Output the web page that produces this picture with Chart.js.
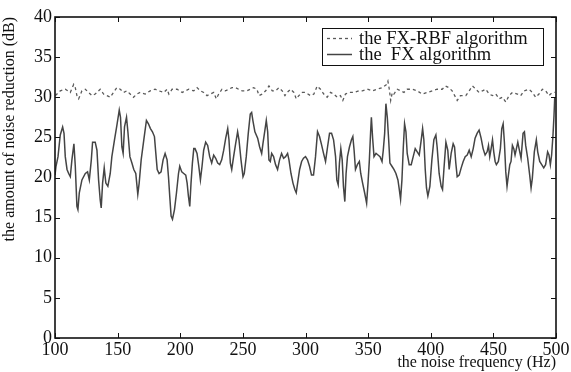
<!DOCTYPE html>
<html>
<head>
<meta charset="utf-8">
<script src="https://cdn.jsdelivr.net/npm/chart.js@4.4.1/dist/chart.umd.min.js"></script>
<style>
  html, body { margin: 0; padding: 0; background: #fff; }
  #wrap { width: 571px; height: 372px; }
</style>
</head>
<body>
<div id="wrap"><canvas id="chart" width="571" height="372"></canvas></div>
<script>
// x ticks / y ticks
const xTicks = [100, 150, 200, 250, 300, 350, 400, 450, 500];
const yTicks = [0, 5, 10, 15, 20, 25, 30, 35, 40];

const seriesNames = ['the FX-RBF algorithm', 'the  FX algorithm'];

// the FX-RBF algorithm (dashed)
const freqRBF = [100.3, 104.2, 108.2, 112.2, 114.9, 116.2, 117.5, 118.9, 121.5, 124.2, 126.8, 129.5, 132.1, 136.1, 138.8, 141.4, 144.1, 146.7, 149.4, 152.1,
  154.7, 157.4, 160, 162.7, 165.3, 168, 172, 176, 179.9, 182.9, 186.9, 189.5, 190.9, 193.5, 197.5, 201.5, 204.1, 206.8, 210.8, 213.4,
  216.1, 218.7, 221.4, 224.1, 226.7, 228.8, 230.7, 233.3, 236, 238.7, 241.3, 244, 246.6, 249.3, 253.3, 255.9, 258.6, 261.2, 262.9, 265.5,
  268.2, 270.8, 273.5, 276.1, 278.8, 281.4, 283.6, 285.4, 288.1, 290.7, 292.6, 294.7, 297.4, 300, 304, 306.7, 309.3, 312, 314.6, 317.3,
  320, 322.6, 325.3, 327.9, 329.8, 331.9, 334.6, 338.6, 342.5, 345.4, 349.4, 353.4, 357.3, 361.3, 364.8, 365.8, 366.9, 368, 369.3, 370.6,
  373.3, 375.9, 378.6, 381.2, 385.2, 389.2, 393.2, 397.2, 401.2, 405.1, 409.1, 411.8, 414.4, 417.1, 419.8, 421.1, 423.7, 428, 430.7, 433.3,
  436, 438.6, 441.3, 443.9, 446.6, 449.3, 451.9, 454.6, 457.2, 459.9, 462.5, 465.2, 469.2, 471.8, 474.5, 478.5, 481.1, 483.8, 486.4, 489.1,
  491.8, 494.4, 497.1, 499];
const valRBF = [30.2, 30.8, 31, 30.6, 31.6, 31.2, 30.2, 29.8, 30.8, 31, 30.6, 30.2, 30.4, 31, 30.4, 30.2, 30, 30.6, 31.2, 31,
  30.6, 30.8, 30.4, 30, 30.4, 30.6, 30.4, 30.8, 31, 30.8, 30.6, 31, 30.4, 31, 31, 30.6, 30.8, 31, 30.8, 31.2,
  30.8, 30.6, 30.2, 30.4, 30.6, 29.8, 30.4, 31, 30.8, 31, 31.2, 31.2, 31, 30.8, 30.8, 31, 31.2, 31, 30.2, 30.4,
  30.8, 31.4, 30.8, 30.8, 31.2, 30.8, 30.2, 30.6, 31, 30.6, 29.8, 30.2, 30.6, 30.6, 30.2, 30.4, 31.4, 31, 30.4, 30,
  30.6, 30.4, 30, 30.2, 29.6, 30.4, 30.6, 30.6, 30.8, 30.8, 31, 30.8, 31, 31.2, 31.6, 32, 31, 29.6, 30.6, 30.4,
  31, 30.8, 30.6, 31, 31, 30.8, 30.4, 30.6, 30.8, 31, 31, 31.4, 31.2, 30.8, 30, 29.6, 30.2, 30.2, 30.8, 31.4,
  31, 30.6, 30.8, 31, 30.4, 30.2, 30.4, 29.8, 30, 29.4, 30.2, 30.6, 30.4, 30.2, 30.8, 31, 30.6, 30, 30.4, 31,
  30.8, 30.2, 30.6, 30.6];

// the FX algorithm (solid)
const freqFX = [100, 100.8, 102.4, 104.2, 106.1, 107.2, 108.2, 109.6, 110.9, 112.2, 113.5, 115.1, 116.2, 117.5, 118.3, 119.4, 121.5, 124.2, 126, 127.4,
  129, 130, 132.1, 133.5, 134.8, 136.1, 136.9, 138, 139.3, 140.6, 142.2, 144.1, 145.4, 147.5, 149.4, 151.3, 152.3, 153.4, 154.4, 155.5,
  157.1, 158.2, 159.8, 161.4, 162.9, 164.5, 166.1, 167.2, 168.8, 170.9, 173, 174.6, 176.2, 177.8, 179.4, 180.5, 181.6, 183.1, 184.7, 186.3,
  187.9, 189.5, 190.6, 191.6, 192.7, 193.8, 195.4, 197, 198.6, 199.6, 201.2, 202.8, 204.4, 205.5, 206.5, 207.6, 208.6, 209.7, 210.8, 211.8,
  213.4, 214.8, 216.1, 217.4, 218.7, 220.3, 221.9, 223.5, 225.1, 226.7, 228.3, 229.9, 231.5, 233.1, 234.7, 236.3, 237.9, 238.9, 240, 241.1,
  242.6, 244.2, 245.8, 246.9, 248.5, 250.1, 251.1, 252.7, 254.3, 255.9, 257, 258, 259.6, 261.8, 263.4, 265, 266, 267.6, 268.7, 269.8,
  270.8, 271.9, 273, 274.5, 276.1, 277.7, 279.3, 280.9, 282.5, 284.1, 285.7, 286.8, 288.4, 290, 291.5, 292.6, 293.7, 295.3, 296.9, 298.4,
  300, 301.6, 303.2, 304.8, 306.4, 308, 309.6, 311.2, 312.8, 314.4, 316, 317.6, 319.2, 320.8, 322.4, 324, 325, 326.1, 327.1, 328.2,
  329.3, 330.3, 331.4, 332.4, 333.5, 335.1, 336.7, 337.8, 338.8, 339.9, 341.4, 343, 344.1, 345.6, 347.2, 348.8, 349.9, 351, 352, 352.6,
  353.6, 354.7, 356.3, 357.9, 359.5, 361.1, 362.1, 363.2, 364.2, 365.3, 366.4, 367.4, 369, 370.6, 372.2, 373.8, 374.9, 375.9, 377, 378.1,
  379.1, 380.2, 381.2, 382.8, 384.4, 386, 387.6, 389.2, 390.8, 392.4, 393.5, 394.5, 395.6, 396.6, 397.7, 399.3, 400.9, 402.5, 404.1, 405.1,
  406.7, 408.3, 409.4, 410.5, 412.1, 413.6, 414.7, 416.3, 417.9, 419, 420, 421.1, 422.7, 424.3, 425.9, 427.5, 429.1, 430.7, 432.3, 433.9,
  435.4, 437, 438.6, 440.2, 441.8, 443.4, 445, 446.1, 447.1, 448.2, 449.3, 450.3, 451.4, 452.4, 454, 455.6, 456.7, 457.8, 458.8, 459.9,
  460.9, 462, 463.1, 464.1, 465.2, 466.3, 467.3, 468.4, 469.5, 470.5, 472.1, 473.7, 474.8, 475.8, 477.4, 479, 480.1, 481.1, 482.7, 484.3,
  485.4, 487, 488.6, 490.2, 491.7, 493.3, 494.4, 495.5, 496.5, 497.6, 498.4, 499];
const valFX = [20.3, 21.4, 22.6, 25.3, 26.3, 25.5, 22.6, 21, 20.5, 20.1, 22.2, 24.2, 21.4, 16.4, 16, 18.1, 19.7, 20.5, 20.7, 19.7,
  22.2, 24.4, 24.4, 23.4, 19.7, 17.2, 16.2, 19.3, 21.2, 19.3, 18.9, 20.5, 22.6, 24.7, 26.5, 28.4, 27.5, 23.8, 23, 26.3,
  27.5, 25.7, 22.6, 21.8, 21, 20.5, 17.9, 19.3, 22.2, 24.7, 27.1, 26.7, 26.1, 25.7, 25.1, 23, 21, 20.5, 20.7, 22.2,
  23, 22.2, 20.1, 17.7, 15.2, 14.8, 16, 18.1, 20.5, 21.4, 20.7, 20.5, 20.3, 19.3, 17.7, 16.4, 19.3, 21.8, 23.6, 23.6,
  23, 21.4, 19.7, 21.4, 23.4, 24.4, 24, 22.6, 21.8, 22.8, 22.4, 21.8, 21.6, 22.2, 23.4, 24.9, 26.1, 24.7, 21.8, 21,
  22.6, 24.2, 25.7, 24.7, 22.2, 20.1, 20.5, 22.6, 25.5, 27.9, 28.1, 27.1, 25.7, 24.9, 23.8, 23, 24.2, 25.9, 27.1, 25.7,
  22.2, 22, 23, 22.6, 21.6, 21, 22.2, 23, 22.4, 22.6, 23, 22.2, 20.5, 19.3, 18.5, 18.1, 19.3, 21, 22, 22.4,
  22.6, 22.2, 21.4, 20.3, 20.3, 22.6, 25.7, 25.1, 24.1, 23, 22, 23.8, 25.5, 25.5, 24.7, 22.6, 19.7, 19.1, 21.8, 23.6,
  22.2, 18.9, 17, 20.5, 22.6, 23.8, 24.7, 25.1, 23.4, 21, 21.6, 22, 20.5, 19.3, 18.1, 16.8, 19.3, 22.2, 25.7, 27.5,
  24.9, 22.6, 23, 22.8, 22.6, 22, 23.4, 25.5, 29.2, 27.5, 24.7, 21.8, 21.4, 21, 20.5, 19.7, 18.5, 17.3, 19.7, 23.8,
  26.7, 25.7, 23, 21.6, 21.6, 22.6, 23.6, 23.2, 22.8, 24.7, 26.1, 24.7, 21, 18.7, 17.7, 18.9, 22.2, 24.7, 25.3, 23.8,
  20.5, 18.9, 18.5, 21, 24.4, 23.4, 21, 23, 24.2, 23.8, 21.8, 20.1, 20.3, 21.2, 22, 22.6, 22.8, 23.4, 22.6, 23.6,
  24.9, 25.5, 25.9, 24.9, 23.6, 22.8, 23.2, 24, 22.6, 23.6, 24.7, 23.2, 22, 21.6, 22, 23.6, 26.1, 26.7, 24.4, 20.7,
  18.9, 20.3, 21.6, 22, 24, 23.6, 22.8, 23.6, 24.4, 23.6, 22.4, 25.5, 25.7, 24, 22.4, 20.3, 18.7, 19.9, 23.2, 24.7,
  23.2, 22, 21.6, 21.2, 21.6, 23.2, 22.8, 21.6, 22.8, 25.3, 27.7, 30];

const FONT = "'Liberation Serif', 'Times New Roman', serif";
const INK = '#111';

function toPoints(xs, ys) {
  return xs.map((x, i) => ({ x: x, y: ys[i] }));
}

// box, inward ticks, legend inside the plot
const framePlugin = {
  id: 'frame',
  afterDraw(chart) {
    const ctx = chart.ctx;
    const a = chart.chartArea;
    const sx = chart.scales.x, sy = chart.scales.y;
    ctx.save();
    ctx.strokeStyle = INK;
    ctx.lineWidth = 1.6;
    ctx.strokeRect(a.left, a.top, a.right - a.left, a.bottom - a.top);

    ctx.lineWidth = 1;
    const tl = 5;
    ctx.beginPath();
    xTicks.forEach(v => {
      const px = Math.round(sx.getPixelForValue(v)) + 0.5;
      ctx.moveTo(px, a.bottom); ctx.lineTo(px, a.bottom - tl);
      ctx.moveTo(px, a.top); ctx.lineTo(px, a.top + tl);
    });
    yTicks.forEach(v => {
      const py = Math.round(sy.getPixelForValue(v)) + 0.5;
      ctx.moveTo(a.left, py); ctx.lineTo(a.left + tl, py);
      ctx.moveTo(a.right, py); ctx.lineTo(a.right - tl, py);
    });
    ctx.stroke();

    // legend
    const bx = 322, by = 28, bw = 221, bh = 37;
    ctx.fillStyle = '#fff';
    ctx.fillRect(bx, by, bw, bh);
    ctx.strokeStyle = INK;
    ctx.lineWidth = 1;
    ctx.strokeRect(bx + 0.5, by + 0.5, bw, bh);

    const ds = chart.data.datasets;
    const rows = [by + 10, by + 26];
    ds.forEach((d, i) => {
      ctx.save();
      ctx.strokeStyle = d.borderColor;
      ctx.lineWidth = d.borderWidth;
      ctx.setLineDash(d.borderDash || []);
      ctx.beginPath();
      ctx.moveTo(bx + 5, rows[i] + 0.5);
      ctx.lineTo(bx + 30, rows[i] + 0.5);
      ctx.stroke();
      ctx.restore();
      ctx.fillStyle = INK;
      ctx.font = '18.5px ' + FONT;
      ctx.textBaseline = 'middle';
      ctx.textAlign = 'left';
      ctx.fillText(d.label, bx + 37, rows[i] + 1);
    });
    ctx.restore();
  }
};

new Chart(document.getElementById('chart'), {
  type: 'line',
  data: {
    datasets: [
      {
        label: seriesNames[0],
        data: toPoints(freqRBF, valRBF),
        borderColor: '#5a5a5a',
        borderWidth: 1.3,
        borderDash: [3, 3],
        pointRadius: 0,
        tension: 0,
        fill: false
      },
      {
        label: seriesNames[1],
        data: toPoints(freqFX, valFX),
        borderColor: '#444',
        borderWidth: 1.5,
        pointRadius: 0,
        tension: 0,
        fill: false
      }
    ]
  },
  options: {
    responsive: false,
    animation: false,
    layout: { padding: { top: 17, right: 15, left: 0, bottom: 0 } },
    plugins: {
      legend: { display: false },
      tooltip: { enabled: false }
    },
    scales: {
      x: {
        type: 'linear',
        min: 100,
        max: 500,
        afterBuildTicks: s => { s.ticks = xTicks.map(v => ({ value: v })); },
        afterFit: s => { s.height = 34; },
        ticks: { font: { family: FONT, size: 18 }, color: INK, padding: 1, maxRotation: 0, autoSkip: false },
        grid: { display: false, drawTicks: false },
        border: { display: false },
        title: {
          display: true,
          text: 'the noise frequency (Hz)',
          align: 'end',
          color: INK,
          font: { family: FONT, size: 16 },
          padding: { top: 0, bottom: 0 }
        }
      },
      y: {
        min: 0,
        max: 40,
        afterBuildTicks: s => { s.ticks = yTicks.map(v => ({ value: v })); },
        afterFit: s => { s.width = 55; },
        ticks: { font: { family: FONT, size: 18 }, color: INK, padding: 3 },
        grid: { display: false, drawTicks: false },
        border: { display: false },
        title: {
          display: true,
          text: 'the amount of noise reduction (dB)',
          align: 'end',
          color: INK,
          font: { family: FONT, size: 16 },
          padding: { top: 0, bottom: 0 }
        }
      }
    }
  },
  plugins: [framePlugin]
});
</script>
</body>
</html>
